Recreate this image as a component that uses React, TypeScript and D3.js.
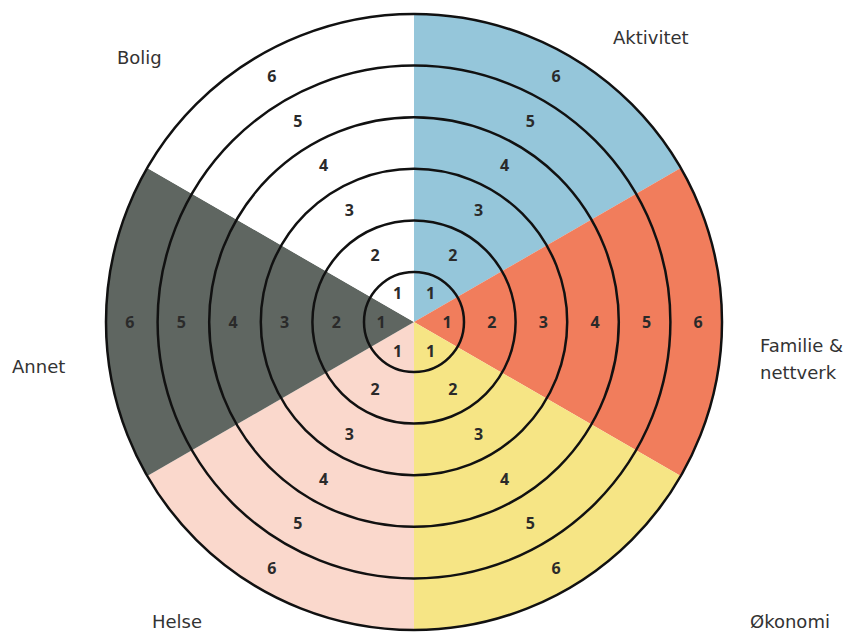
import { useEffect, useRef } from 'react'
import * as d3 from 'd3'

// sectors clockwise from 12 o'clock
const categories = ['Aktivitet', 'Familie & nettverk', 'Økonomi', 'Helse', 'Annet', 'Bolig']
const sectorColors = ['#95c6da', '#f17d5c', '#f6e585', '#fad8cc', '#5f6661', '#ffffff']
const levels = [1, 2, 3, 4, 5, 6]

// label anchors (text start, baseline) around the wheel
const labelPos: [number, number][] = [
  [613, 44],
  [760, 352],
  [750, 628],
  [152, 628],
  [12, 373],
  [117, 64],
]

const W = 857
const H = 632

export default function App() {
  const svgRef = useRef<SVGSVGElement>(null)

  useEffect(() => {
    const svg = d3.select(svgRef.current)
    svg.selectAll('*').remove()

    const cx = 414
    const cy = 322
    const outer = 308

    const r = d3.scaleLinear().domain([0, 1, 6]).range([0, 50, outer])
    const angle = d3.scaleBand<number>()
      .domain(d3.range(categories.length))
      .range([0, 2 * Math.PI])

    const g = svg.append('g').attr('transform', `translate(${cx},${cy})`)

    // colour wedges
    const arc = d3.arc<number>()
      .innerRadius(0)
      .outerRadius(outer)
      .startAngle(i => angle(i)!)
      .endAngle(i => angle(i)! + angle.bandwidth())

    g.selectAll('path.sector')
      .data(d3.range(categories.length))
      .join('path')
      .attr('class', 'sector')
      .attr('d', arc)
      .attr('fill', i => sectorColors[i])

    // rings
    g.selectAll('circle')
      .data(levels)
      .join('circle')
      .attr('r', d => r(d))
      .attr('fill', 'none')
      .attr('stroke', '#111')
      .attr('stroke-width', 2.5)

    // ring numbers along each sector's centre line
    const cells: { i: number; lvl: number }[] = []
    categories.forEach((_, i) => levels.forEach(lvl => cells.push({ i, lvl })))

    const labelR = (lvl: number) => (lvl === 1 ? 33 : (r(lvl - 1) + r(lvl)) / 2 + 2)

    g.selectAll('text.num')
      .data(cells)
      .join('text')
      .attr('class', 'num')
      .attr('x', d => labelR(d.lvl) * Math.sin(angle(d.i)! + angle.bandwidth() / 2))
      .attr('y', d => -labelR(d.lvl) * Math.cos(angle(d.i)! + angle.bandwidth() / 2))
      .attr('text-anchor', 'middle')
      .attr('dominant-baseline', 'central')
      .style('font-family', '"Open Sans", sans-serif')
      .style('font-weight', 700)
      .style('font-size', '16px')
      .style('fill', '#2a2a2a')
      .text(d => d.lvl)

    // category names
    const names = svg.selectAll('text.cat')
      .data(categories)
      .join('text')
      .attr('class', 'cat')
      .attr('x', (_, i) => labelPos[i][0])
      .attr('y', (_, i) => labelPos[i][1])
      .style('font-family', '"DejaVu Sans", sans-serif')
      .style('font-size', '18px')
      .style('fill', '#333')

    names.each(function (d, i) {
      const t = d3.select(this)
      const parts = d === 'Familie & nettverk' ? ['Familie &', 'nettverk'] : [d]
      parts.forEach((p, k) => {
        t.append('tspan')
          .attr('x', labelPos[i][0])
          .attr('dy', k === 0 ? 0 : 27)
          .text(p)
      })
    })
  }, [])

  return (
    <svg
      ref={svgRef}
      width={W}
      height={H}
      style={{ position: 'fixed', left: 0, top: 0, background: '#fff' }}
    />
  )
}
